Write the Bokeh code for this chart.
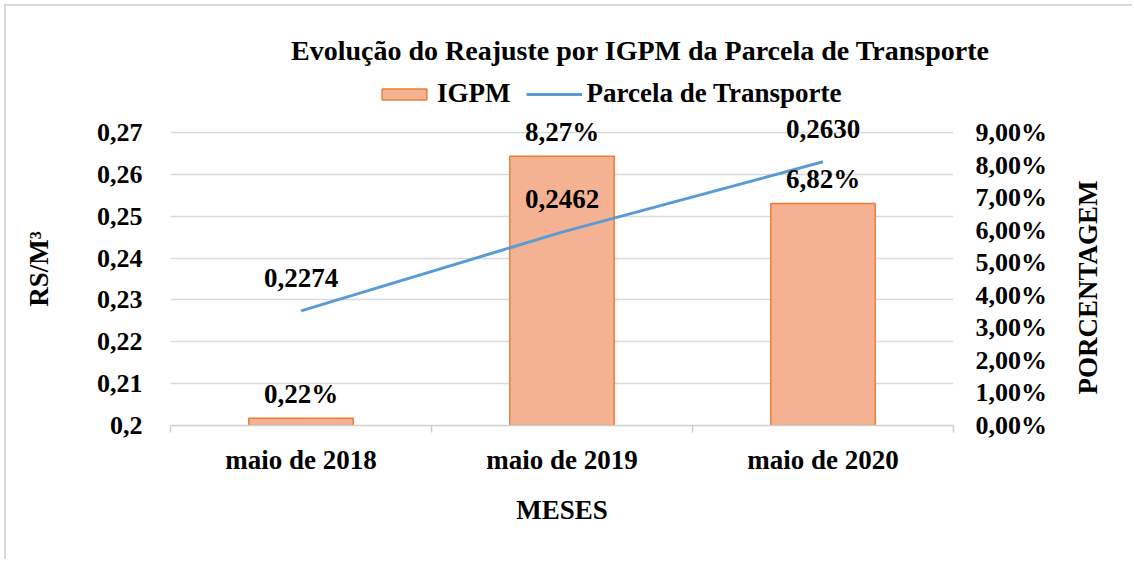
import math
from bokeh.plotting import figure
from bokeh.layouts import column, row
from bokeh.models import (Range1d, LinearAxis, FixedTicker, CustomJSTickFormatter,
                          Legend, LegendItem, ColumnDataSource, LabelSet, Label)
from bokeh.embed import file_html
from bokeh.resources import INLINE

# ---- data ----
months = ["maio de 2018", "maio de 2019", "maio de 2020"]
igpm_pct = [0.22, 8.27, 6.82]          # IGPM (%) - right axis
parcela = [0.2274, 0.2462, 0.2630]     # Parcela de Transporte (R$/m3) - left axis
left_ticks = [0.20, 0.21, 0.22, 0.23, 0.24, 0.25, 0.26, 0.27]
right_ticks = [0, 1, 2, 3, 4, 5, 6, 7, 8, 9]

title_text = "Evolução do Reajuste por IGPM da Parcela de Transporte"
series_names = ["IGPM", "Parcela de Transporte"]
right_axis_title = "PORCENTAGEM"

FONT = "Liberation Serif"
FS = "27px"
TICK_FS = "26px"
GRID = "#d9d9d9"
BAR_FILL = "#F5B293"
BAR_LINE = "#ED7D31"
LINE_COL = "#5B9BD5"
BAR_W = 0.4

W = 1126
TOP_H = 106          # header strip (title + legend)
MAIN_H = 447         # chart with axes
STRIP_W = 60         # strip holding the right axis title
MAIN_W = W - STRIP_W
# main frame: top a little above the last tick so the highest data labels fit
FRAME_PAD = 20
TICK_SPAN = 293
ext = FRAME_PAD / TICK_SPAN

x = list(range(len(months)))
src = ColumnDataSource(dict(
    x=x,
    igpm=igpm_pct,
    parcela=parcela,
    igpm_lbl=[f"{v:.2f}".replace(".", ",") + "%" for v in igpm_pct],
    parcela_lbl=[f"{v:.4f}".replace(".", ",") for v in parcela],
))

# ---------------- header: title + legend ----------------
head = figure(width=W, height=TOP_H, output_backend="svg", toolbar_location=None,
              x_range=Range1d(0, W), y_range=Range1d(0, TOP_H),
              x_axis_type=None, y_axis_type=None,
              min_border_left=0, min_border_right=0,
              min_border_top=0, min_border_bottom=0)
head.frame_align = False
head.grid.visible = False
head.outline_line_color = None
head.background_fill_color = "white"
head.border_fill_color = "white"

head.add_layout(Label(x=634, y=62, text=title_text, text_align="center",
                      text_baseline="middle", text_font=FONT,
                      text_font_style="bold", text_font_size="28px",
                      text_color="black"))

# legend-only copies of the two series (hidden; only their swatches are shown)
leg_bar = head.vbar(x="x", top="igpm", width=BAR_W, fill_color=BAR_FILL,
                    line_color=BAR_LINE, line_width=1.5, source=src, visible=False)
leg_line = head.line(x="x", y="parcela", line_color=LINE_COL, line_width=3,
                     source=src, visible=False)
legend = Legend(items=[LegendItem(label=series_names[0], renderers=[leg_bar]),
                       LegendItem(label=series_names[1], renderers=[leg_line])],
                orientation="horizontal", location=(370, 3),
                label_text_font=FONT, label_text_font_style="bold",
                label_text_font_size=FS, label_text_color="black",
                glyph_width=56, glyph_height=14, label_standoff=5, spacing=15,
                padding=0, margin=0, border_line_color=None,
                background_fill_alpha=0, inactive_fill_alpha=0)
head.add_layout(legend)

# ---------------- main chart ----------------
lo, hi = left_ticks[0], left_ticks[-1]
rlo, rhi = right_ticks[0], right_ticks[-1]

p = figure(width=MAIN_W, height=MAIN_H, output_backend="svg", toolbar_location=None,
           x_range=Range1d(-0.5, len(months) - 0.5),
           y_range=Range1d(lo, hi + (hi - lo) * ext),
           min_border_left=164, min_border_right=179 - STRIP_W,
           min_border_top=0, min_border_bottom=134)
p.frame_align = False
p.extra_y_ranges = {"pct": Range1d(rlo, rhi + (rhi - rlo) * ext)}
p.outline_line_color = None
p.background_fill_color = "white"
p.border_fill_color = "white"

bars = p.vbar(x="x", top="igpm", bottom=0, width=BAR_W, y_range_name="pct",
              fill_color=BAR_FILL, line_color=BAR_LINE, line_width=1.5, source=src)
line = p.line(x="x", y="parcela", line_color=LINE_COL, line_width=3, source=src)

# data labels
p.add_layout(LabelSet(x="x", y="parcela", text="parcela_lbl", source=src,
                      text_align="center", text_baseline="middle", y_offset=33,
                      text_font=FONT, text_font_style="bold", text_font_size=FS,
                      text_color="black"))
p.add_layout(LabelSet(x="x", y="igpm", text="igpm_lbl", source=src,
                      y_range_name="pct", text_align="center",
                      text_baseline="middle", y_offset=24, text_font=FONT,
                      text_font_style="bold", text_font_size=FS,
                      text_color="black"))

# grid
p.xgrid.grid_line_color = None
p.ygrid.grid_line_color = GRID
p.ygrid.grid_line_width = 1.5
p.ygrid.ticker = FixedTicker(ticks=left_ticks)

# left axis
ly = p.yaxis[0]
ly.ticker = FixedTicker(ticks=left_ticks)
ly.formatter = CustomJSTickFormatter(
    code="return (Math.round(tick*100)/100).toString().replace('.', ',');")
ly.axis_label = "RS/M³"
ly.axis_line_color = None
ly.major_tick_line_color = None
ly.minor_tick_line_color = None
ly.major_label_standoff = 22
ly.axis_label_standoff = 40

# right axis (its title is drawn in the strip to the right)
ry = LinearAxis(y_range_name="pct", ticker=FixedTicker(ticks=right_ticks),
                formatter=CustomJSTickFormatter(
                    code="return tick.toFixed(2).replace('.', ',') + '%';"))
ry.axis_line_color = None
ry.major_tick_line_color = None
ry.minor_tick_line_color = None
ry.major_label_standoff = 16
p.add_layout(ry, "right")

# bottom axis
bx = p.xaxis[0]
bx.ticker = FixedTicker(ticks=x, minor_ticks=[i - 0.5 for i in range(len(months) + 1)])
bx.major_label_overrides = {i: m for i, m in zip(x, months)}
bx.axis_label = "MESES"
bx.axis_line_color = "#cfcfcf"
bx.axis_line_width = 1.5
bx.major_tick_line_color = None
bx.minor_tick_line_color = "#cfcfcf"
bx.minor_tick_line_width = 1.5
bx.minor_tick_in = 0
bx.minor_tick_out = 7
bx.major_label_standoff = 12
bx.axis_label_standoff = 17

for ax in (ly, ry, bx):
    ax.major_label_text_font = FONT
    ax.major_label_text_font_style = "bold"
    ax.major_label_text_font_size = FS if ax is bx else TICK_FS
    ax.major_label_text_color = "black"
    ax.axis_label_text_font = FONT
    ax.axis_label_text_font_style = "bold"
    ax.axis_label_text_font_size = FS
    ax.axis_label_text_color = "black"

# ---------------- right strip: right axis title ----------------
strip = figure(width=STRIP_W, height=MAIN_H, output_backend="svg",
               toolbar_location=None,
               x_range=Range1d(0, STRIP_W), y_range=Range1d(0, MAIN_H),
               x_axis_type=None, y_axis_type=None,
               min_border_left=0, min_border_right=0,
               min_border_top=0, min_border_bottom=0)
strip.frame_align = False
strip.grid.visible = False
strip.outline_line_color = None
strip.background_fill_color = "white"
strip.border_fill_color = "white"
strip.add_layout(Label(x=15, y=272, text=right_axis_title, angle=math.pi / 2,
                       angle_units="rad", text_align="center",
                       text_baseline="middle", text_font=FONT,
                       text_font_style="bold", text_font_size=FS,
                       text_color="black"))

page = column(head, row(p, strip, spacing=0), spacing=0,
              styles={"margin": "4px 0 0 4px",
                      "border-left": "2px solid #d9d9d9",
                      "border-top": "2px solid #d9d9d9"})

open("out.html", "w").write(file_html(page, INLINE))
